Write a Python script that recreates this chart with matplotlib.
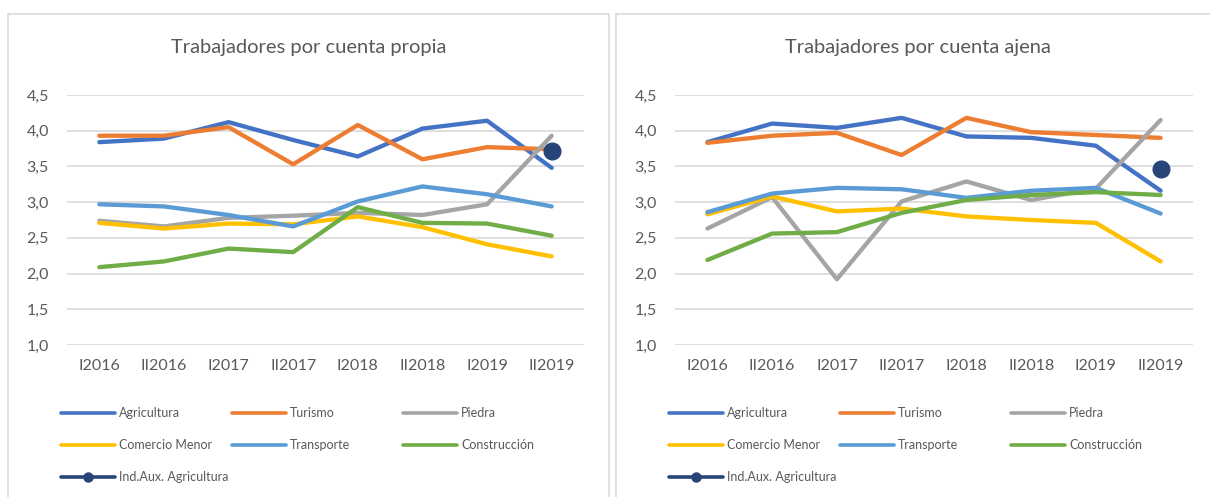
import numpy as np
import matplotlib

matplotlib.use("Agg")
import matplotlib.pyplot as plt
from matplotlib.lines import Line2D
from matplotlib.patches import Rectangle
from matplotlib.ticker import FuncFormatter

# categories (half-years)
periods = ["I2016", "II2016", "I2017", "II2017", "I2018", "II2018", "I2019", "II2019"]
series_names = [
    "Agricultura",
    "Turismo",
    "Piedra",
    "Comercio Menor",
    "Transporte",
    "Construcción",
    "Ind.Aux. Agricultura",
]

# Trabajadores por cuenta propia
agricultura_propia = [3.84, 3.89, 4.12, 3.87, 3.64, 4.03, 4.14, 3.48]
turismo_propia = [3.93, 3.93, 4.05, 3.53, 4.08, 3.60, 3.77, 3.74]
piedra_propia = [2.74, 2.66, 2.78, 2.81, 2.85, 2.82, 2.97, 3.93]
comercio_propia = [2.71, 2.63, 2.70, 2.69, 2.80, 2.65, 2.41, 2.24]
transporte_propia = [2.97, 2.94, 2.82, 2.66, 3.01, 3.22, 3.11, 2.94]
construccion_propia = [2.09, 2.17, 2.35, 2.30, 2.93, 2.71, 2.70, 2.53]
auxagri_propia = [None, None, None, None, None, None, None, 3.72]

# Trabajadores por cuenta ajena
agricultura_ajena = [3.84, 4.10, 4.04, 4.18, 3.92, 3.90, 3.79, 3.16]
turismo_ajena = [3.83, 3.93, 3.97, 3.66, 4.18, 3.98, 3.94, 3.90]
piedra_ajena = [2.63, 3.07, 1.92, 3.01, 3.29, 3.03, 3.19, 4.15]
comercio_ajena = [2.83, 3.08, 2.87, 2.91, 2.80, 2.75, 2.71, 2.17]
transporte_ajena = [2.86, 3.12, 3.20, 3.18, 3.06, 3.16, 3.20, 2.84]
construccion_ajena = [2.19, 2.56, 2.58, 2.85, 3.03, 3.10, 3.14, 3.10]
auxagri_ajena = [None, None, None, None, None, None, None, 3.46]

colors = ["#4472C4", "#ED7D31", "#A5A5A5", "#FFC000", "#5B9BD5", "#70AD47", "#264478"]

W, H = 1210, 497
TEXT = "#595959"
GRID = "#D9D9D9"


def fx(px):
    return px / W


def fy(py):
    # pixel measured from the top -> figure fraction
    return 1 - py / H


def draw_panel(fig, ax_left, ax_right, title, title_x, data):
    ax = fig.add_axes([fx(ax_left), fy(345), fx(ax_right - ax_left), (345 - 95) / H])
    x = np.arange(len(periods))
    for i, (vals, c) in enumerate(zip(data, colors)):
        y = np.array([np.nan if v is None else v for v in vals], dtype=float)
        if i == len(data) - 1:
            ax.plot(x, y, color=c, lw=3, marker="o", ms=12, zorder=3 + i)
        else:
            ax.plot(x, y, color=c, lw=3.1, solid_capstyle="round",
                    solid_joinstyle="round", zorder=3 + i)

    ax.set_xlim(-0.5, len(periods) - 0.5)
    ax.set_ylim(1.0, 4.5)
    ax.set_yticks(np.arange(1.0, 4.51, 0.5))
    ax.yaxis.set_major_formatter(FuncFormatter(lambda v, p: f"{v:.1f}".replace(".", ",")))
    ax.set_xticks(x)
    ax.set_xticklabels(periods)
    ax.grid(axis="y", color=GRID, lw=1.2)
    ax.set_axisbelow(True)
    for s in ax.spines.values():
        s.set_visible(False)
    ax.tick_params(axis="both", length=0, labelsize=11.5, colors=TEXT)
    ax.tick_params(axis="x", pad=10)
    ax.tick_params(axis="y", pad=13)

    fig.text(fx(title_x), fy(47), title, ha="center", va="center",
             fontsize=14.5, color=TEXT)
    return ax


def draw_legend(fig, x0):
    # three columns, row by row like the Excel legend
    for i, (name, c) in enumerate(zip(series_names, colors)):
        col, row = i % 3, i // 3
        lx = x0 + col * 171
        ly = 413 + row * 32
        handle = Line2D([fx(lx), fx(lx + 54)], [fy(ly), fy(ly)], color=c, lw=2.6,
                        solid_capstyle="round", transform=fig.transFigure)
        fig.add_artist(handle)
        if name == "Ind.Aux. Agricultura":
            fig.add_artist(Line2D([fx(lx + 27)], [fy(ly)], color=c, marker="o", ms=6.5,
                                  transform=fig.transFigure))
        fig.text(fx(lx + 58), fy(ly), name, ha="left", va="center", fontsize=9, color=TEXT)


def main():
    plt.rcParams["font.family"] = ["Lato", "DejaVu Sans"]
    fig = plt.figure(figsize=(W / 100, H / 100), dpi=100)

    # chart frames (Excel chart areas)
    for x0, x1 in [(8, 609), (616, 1225)]:
        fig.add_artist(Rectangle((fx(x0), fy(520)), fx(x1 - x0), (520 - 14) / H,
                                 fill=False, edgecolor=GRID, lw=1.2,
                                 transform=fig.transFigure, clip_on=False))

    propia = [agricultura_propia, turismo_propia, piedra_propia, comercio_propia,
              transporte_propia, construccion_propia, auxagri_propia]
    ajena = [agricultura_ajena, turismo_ajena, piedra_ajena, comercio_ajena,
             transporte_ajena, construccion_ajena, auxagri_ajena]

    draw_panel(fig, 67, 584, "Trabajadores por cuenta propia", 309, propia)
    draw_panel(fig, 675, 1193, "Trabajadores por cuenta ajena", 918, ajena)

    draw_legend(fig, 61)
    draw_legend(fig, 669)

    fig.savefig("out.png", dpi=100)


if __name__ == "__main__":
    main()
